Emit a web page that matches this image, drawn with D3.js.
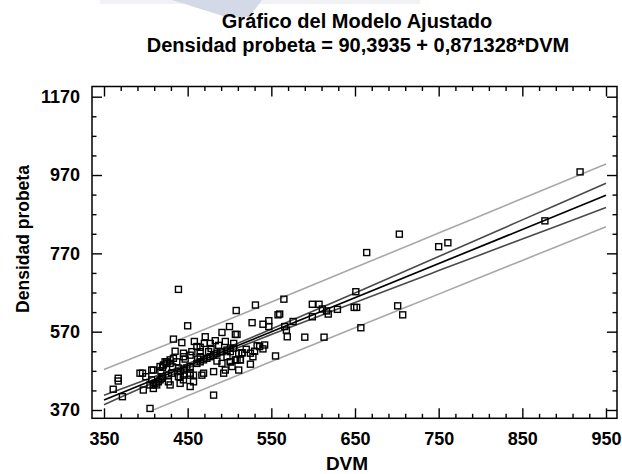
<!DOCTYPE html>
<html>
<head>
<meta charset="utf-8">
<script src="https://cdn.jsdelivr.net/npm/d3@7"></script>
<style>
  body { margin: 0; background: #fff; }
  svg { display: block; }
  text { font-family: "Liberation Sans", Arial, sans-serif; font-weight: bold; fill: #000; }
</style>
</head>
<body>
<svg id="chart" width="622" height="474"></svg>
<script>
// Fitted model: Densidad probeta = intercept + slope * DVM
const intercept = 90.3935;
const slope = 0.871328;

// Axis ticks
const xMajor = [350, 450, 550, 650, 750, 850, 950];
const yMajor = [370, 570, 770, 970, 1170];

// Confidence (inner) and prediction (outer) limits
const bandX      = [350, 450, 550, 650, 750, 850, 950];
const confUpper  = [407.4, 488.0, 576.6, 668.8, 761.9, 855.5, 949.2];
const confLower  = [383.4, 477.0, 562.6, 644.8, 725.9, 806.5, 887.2];
const predUpper  = [473.4, 558.5, 645.6, 733.8, 821.9, 910.0, 998.2];
const predLower  = [317.4, 406.5, 493.6, 579.8, 665.9, 752.0, 838.2];

// Observations
const dvm = [
  919, 877, 703, 750, 761, 664, 651, 599, 607, 565, 560, 649, 652, 701, 707, 657, 590, 613, 629, 611,
  616, 618, 599, 576, 568, 569, 566,
  439, 531, 508, 450, 433, 443, 491, 500, 507, 509, 558, 540, 547, 547, 527, 471, 483, 477, 465, 465,
  407, 367, 367, 361, 372, 393, 396, 397, 405, 481, 525, 533, 540, 555, 515, 509, 513, 481, 467, 453,
  441, 439, 425, 429, 420, 415, 409, 413, 419, 445, 453, 465, 475, 491, 497, 501, 491, 501,
  461, 455, 445, 433, 437, 423, 425, 429, 417, 421, 409, 407, 411, 427, 431, 441, 445, 449, 453, 439,
  445, 453, 457, 469, 461, 465, 469, 473, 477, 481, 485, 489, 497, 501, 505, 511, 515, 501, 507, 513,
  511, 503, 536, 542, 525, 528, 493, 495, 453, 457, 441, 445, 427, 429, 417, 420, 405, 409,
  435, 458, 470, 487, 495, 505, 478, 462, 447, 432, 418, 400, 485, 520, 530
];
const densidad = [
  978, 853, 819, 787, 797, 772, 672, 640, 640, 653, 615, 632, 632, 636, 613, 580, 556, 556, 627, 628,
  623, 615, 608, 596, 574, 557, 583,
  678, 638, 624, 585, 551, 542, 568, 583, 563, 563, 613, 589, 598, 583, 593, 557, 547, 540, 530, 519,
  472, 451, 444, 423, 404, 464, 464, 421, 374, 408, 487, 534, 526, 508, 516, 498, 498, 468, 459, 459,
  455, 477, 493, 498, 479, 442, 434, 434, 451, 506, 510, 506, 519, 519, 506, 493, 489, 528,
  532, 519, 515, 502, 493, 493, 489, 489, 481, 485, 472, 447, 438, 459, 464, 468, 472, 477, 481, 455,
  459, 464, 459, 464, 489, 493, 498, 502, 506, 510, 515, 519, 523, 519, 528, 515, 516, 493, 498, 498,
  472, 481, 532, 536, 515, 506, 464, 472, 430, 442, 438, 447, 442, 434, 447, 455, 434, 425,
  520, 545, 540, 535, 545, 540, 527, 500, 500, 480, 470, 455, 495, 525, 520
];

const svg = d3.select("#chart");
svg.append("rect").attr("width", 622).attr("height", 474).attr("fill", "#fff");

// faint logo fragment at the top edge
svg.append("rect").attr("x", 100).attr("y", 0).attr("width", 320).attr("height", 4).attr("fill", "#f1f2f5");
svg.append("polygon")
  .attr("points", "172,0 262,0 249,17 226,17")
  .attr("fill", "#d3d9e6");

const frame = { left: 92, right: 617, top: 86.5, bottom: 418.3 };

const x = d3.scaleLinear().domain([350, 950]).range([104, 606]);
const y = d3.scaleLinear().domain([370, 1170]).range([410, 96.7]);

const xMinor = d3.range(350, 951, 20).filter(v => !xMajor.includes(v));
const yMinor = d3.range(370, 1171, 50).filter(v => !yMajor.includes(v));

// Titles
svg.append("text").attr("x", 357).attr("y", 28).attr("text-anchor", "middle")
  .style("font-size", "20px").text("Gráfico del Modelo Ajustado");
svg.append("text").attr("x", 358).attr("y", 52).attr("text-anchor", "middle")
  .style("font-size", "20px").text("Densidad probeta = 90,3935 + 0,871328*DVM");

// Clip for the fitted lines
svg.append("clipPath").attr("id", "plotClip")
  .append("rect").attr("x", frame.left).attr("y", y(1170))
  .attr("width", frame.right - frame.left).attr("height", y(370) - y(1170));

const lines = svg.append("g").attr("clip-path", "url(#plotClip)");
const bandLine = vals => d3.line().curve(d3.curveCatmullRom)
  .x((d, i) => x(bandX[i])).y(d => y(d))(vals);

[[predUpper, "#a8a8a8"], [predLower, "#a8a8a8"], [confUpper, "#4a4a4a"], [confLower, "#4a4a4a"]]
  .forEach(([vals, col]) => {
    lines.append("path").attr("d", bandLine(vals)).attr("fill", "none")
      .attr("stroke", col).attr("stroke-width", 1.6);
  });

const fitEnds = [350, 950];
lines.append("path")
  .attr("d", d3.line().x(d => x(d)).y(d => y(intercept + slope * d))(fitEnds))
  .attr("fill", "none").attr("stroke", "#000").attr("stroke-width", 1.7);

// Observations as open squares
svg.append("g").selectAll("rect").data(dvm.map((d, i) => [d, densidad[i]])).join("rect")
  .attr("x", d => x(d[0]) - 3).attr("y", d => y(d[1]) - 3)
  .attr("width", 6).attr("height", 6)
  .attr("fill", "none").attr("stroke", "#000").attr("stroke-width", 1.4);

// Frame
svg.append("rect").attr("x", frame.left).attr("y", frame.top)
  .attr("width", frame.right - frame.left).attr("height", frame.bottom - frame.top)
  .attr("fill", "none").attr("stroke", "#000").attr("stroke-width", 1.5);

function styleAxis(g) {
  g.select(".domain").remove();
  g.selectAll("line").attr("stroke", "#000").attr("stroke-width", 1.4);
  g.selectAll("text").style("font-size", "18px").style("font-family", "'Liberation Sans', Arial, sans-serif")
    .style("font-weight", "bold").attr("fill", "#000");
}

const majorLen = 10, minorLen = 4.5;

// Bottom
svg.append("g").attr("transform", `translate(0,${frame.bottom})`)
  .call(d3.axisBottom(x).tickValues(xMajor).tickSizeInner(-majorLen).tickSizeOuter(0).tickPadding(13.5).tickFormat(d3.format("d")))
  .call(styleAxis);
svg.append("g").attr("transform", `translate(0,${frame.bottom})`)
  .call(d3.axisBottom(x).tickValues(xMinor).tickSizeInner(-minorLen).tickSizeOuter(0).tickFormat(""))
  .call(styleAxis);
// Top
svg.append("g").attr("transform", `translate(0,${frame.top})`)
  .call(d3.axisTop(x).tickValues(xMajor).tickSizeInner(-majorLen).tickSizeOuter(0).tickFormat(""))
  .call(styleAxis);
svg.append("g").attr("transform", `translate(0,${frame.top})`)
  .call(d3.axisTop(x).tickValues(xMinor).tickSizeInner(-minorLen).tickSizeOuter(0).tickFormat(""))
  .call(styleAxis);
// Left
svg.append("g").attr("transform", `translate(${frame.left},0)`)
  .call(d3.axisLeft(y).tickValues(yMajor).tickSizeInner(-majorLen).tickSizeOuter(0).tickPadding(12).tickFormat(d3.format("d")))
  .call(styleAxis);
svg.append("g").attr("transform", `translate(${frame.left},0)`)
  .call(d3.axisLeft(y).tickValues(yMinor).tickSizeInner(-minorLen).tickSizeOuter(0).tickFormat(""))
  .call(styleAxis);
// Right
svg.append("g").attr("transform", `translate(${frame.right},0)`)
  .call(d3.axisRight(y).tickValues(yMajor).tickSizeInner(-majorLen).tickSizeOuter(0).tickFormat(""))
  .call(styleAxis);
svg.append("g").attr("transform", `translate(${frame.right},0)`)
  .call(d3.axisRight(y).tickValues(yMinor).tickSizeInner(-minorLen).tickSizeOuter(0).tickFormat(""))
  .call(styleAxis);

// Axis titles
svg.append("text").attr("x", 347).attr("y", 470).attr("text-anchor", "middle")
  .style("font-size", "19px").text("DVM");
svg.append("text").attr("transform", "translate(28.5,239) rotate(-90)").attr("text-anchor", "middle")
  .style("font-size", "17.5px").text("Densidad probeta");
</script>
</body>
</html>
